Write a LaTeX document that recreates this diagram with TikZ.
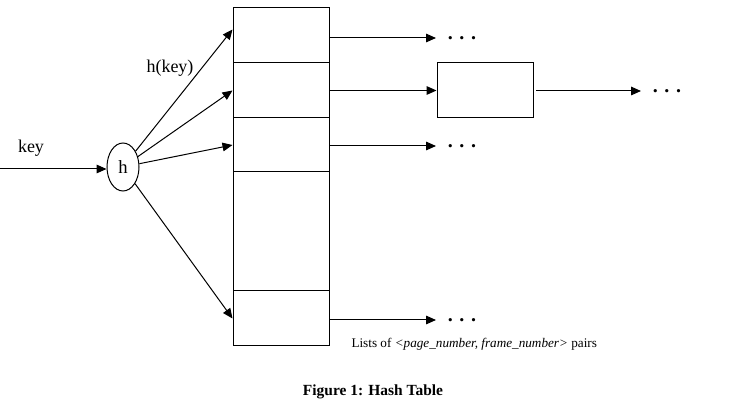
\documentclass[tikz,border=0pt]{standalone}
\usepackage{fontspec}
\setmainfont{Liberation Serif}
\usetikzlibrary{arrows.meta,shapes.geometric}
\tikzset{
  arr/.style={-{Triangle[length=7.5pt,width=6.5pt]}},
  cell/.style={draw,rectangle,minimum width=72pt,inner sep=0pt},
  dotsnode/.style={anchor=west,inner xsep=8.5pt,inner ysep=0pt,font=\fontsize{15}{17}\selectfont\bfseries},
}
\newcommand{\tripledots}{.\hspace{5pt}.\hspace{5pt}.}
\begin{document}
\begin{tikzpicture}[x=0.75pt,y=0.75pt,yscale=-1,xscale=1,line width=0.75pt]
\useasboundingbox (0,0) rectangle (747,420);

%Table cells
\node [cell,minimum height=41.25pt] (cell1) at (281,35.5) {};
\node [cell,minimum height=41.25pt] (cell2) at (281,90.5) {};
\node [cell,minimum height=40.5pt] (cell3) at (281,145) {};
\node [cell,minimum height=89.25pt] (cell4) at (281,231.5) {};
\node [cell,minimum height=41.25pt] (cell5) at (281,318.5) {};

%Hash function
\node [draw,ellipse,minimum width=24pt,minimum height=36pt,inner sep=0pt,font=\fontsize{14}{16}\selectfont] (h) at (123,167) {h};
\coordinate (keyin) at (0,169);
\draw [arr] (keyin) -- (keyin -| h.west);

%Hashed pointers
\draw [arr] (h) -- ([yshift=-4.5pt]cell1.west);
\draw [arr] (h) -- (cell2.west);
\draw [arr] (h) -- (cell3.west);
\draw [arr] (h) -- (cell5.west);

%List entry
\node [draw,rectangle,minimum width=72pt,minimum height=41.25pt,inner sep=0pt] (entry) at (485,90.5) {};

%Dots
\node [dotsnode] (dots1) at (436,38) {\tripledots};
\node [dotsnode] (dots2) at (641,91) {\tripledots};
\node [dotsnode] (dots3) at (436,146) {\tripledots};
\node [dotsnode] (dots5) at (436,320) {\tripledots};

%List pointers
\draw [arr] (cell1.east |- dots1.west) -- (dots1.west);
\draw [arr] (cell2.east) -- (entry.west);
\draw [arr] ([xshift=2pt]entry.east |- dots2.west) -- (dots2.west);
\draw [arr] (cell3.east |- dots3.west) -- (dots3.west);
\draw [arr] (cell5.east |- dots5.west) -- (dots5.west);

% Text Node
\node [font=\fontsize{13.5}{15}\selectfont] (keylabel) at (31,148) {key};
% Text Node
\node [font=\fontsize{13.5}{15}\selectfont] (hkeylabel) at (170,68) {h(key)};
% Text Node
\node [anchor=west,inner sep=0pt,font=\fontsize{9.9}{11}\selectfont] (listslabel) at (351,344) {Lists of \textit{<page\_number, frame\_number>} pairs};
% Text Node
\node [font=\fontsize{11.6}{13}\selectfont\bfseries] (caption) at (373,392) {Figure 1: Hash Table};

\end{tikzpicture}
\end{document}
